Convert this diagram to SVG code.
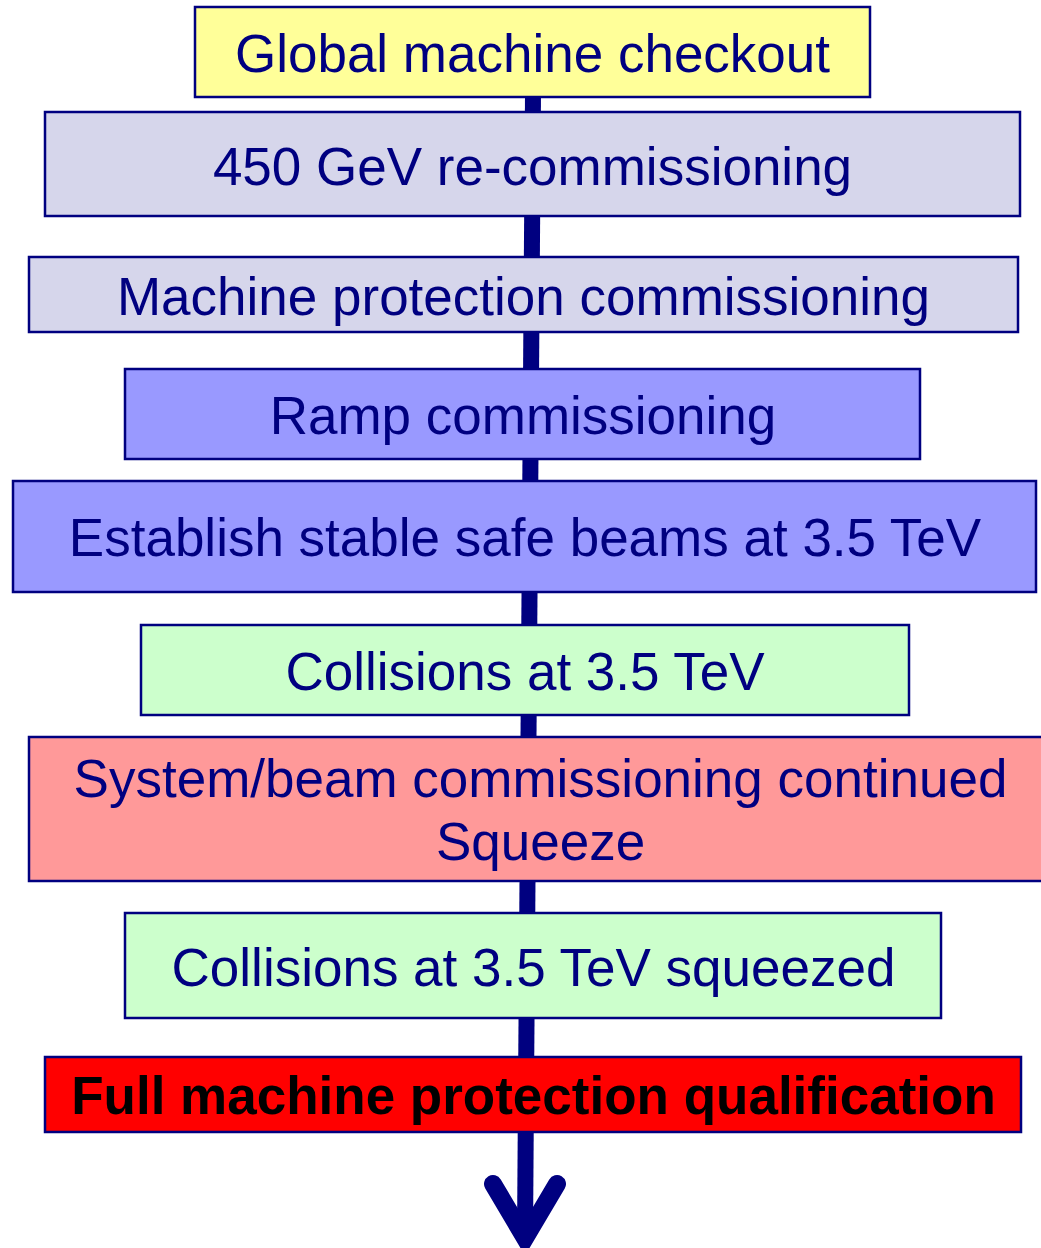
<svg xmlns="http://www.w3.org/2000/svg" width="1041" height="1248" viewBox="0 0 1041 1248">
<style>
.box{stroke:#000080;stroke-width:2.5}
.t{font-family:"Liberation Sans",Arial,Helvetica,sans-serif;font-size:53px;fill:#000080;text-anchor:middle}
.b{font-weight:bold;fill:#000000}
.conn{fill:none;stroke:#000080;stroke-width:16}
.head{fill:none;stroke:#000080;stroke-width:18;stroke-linecap:round;stroke-linejoin:miter}
</style>
<rect width="1041" height="1248" fill="#ffffff"/>
<g id="connectors">
<line class="conn" x1="533" y1="95" x2="525" y2="1236"/>
<polyline class="head" points="493,1184 525,1238 557,1184"/>
</g>
<g id="n1"><rect class="box" x="195" y="7" width="675" height="90" fill="#FFFF99"/><text class="t" x="532.5" y="72">Global machine checkout</text></g>
<g id="n2"><rect class="box" x="45" y="112" width="975" height="104" fill="#D6D6EB"/><text class="t" x="532.5" y="185">450 GeV re-commissioning</text></g>
<g id="n3"><rect class="box" x="29" y="257" width="989" height="75" fill="#D6D6EB"/><text class="t" x="523.5" y="315">Machine protection commissioning</text></g>
<g id="n4"><rect class="box" x="125" y="369" width="795" height="90" fill="#9999FF"/><text class="t" x="523" y="434">Ramp commissioning</text></g>
<g id="n5"><rect class="box" x="13" y="481" width="1023" height="111" fill="#9999FF"/><text class="t" x="525" y="556">Establish stable safe beams at 3.5 TeV</text></g>
<g id="n6"><rect class="box" x="141" y="625" width="768" height="90" fill="#CCFFCC"/><text class="t" x="525" y="690">Collisions at 3.5 TeV</text></g>
<g id="n7"><rect class="box" x="29" y="737" width="1030" height="144" fill="#FF9999"/><text class="t" x="540.5" y="797">System/beam commissioning continued</text><text class="t" x="540.5" y="860">Squeeze</text></g>
<g id="n8"><rect class="box" x="125" y="913" width="816" height="105" fill="#CCFFCC"/><text class="t" x="533.5" y="986">Collisions at 3.5 TeV squeezed</text></g>
<g id="n9"><rect class="box" x="45" y="1057" width="976" height="75" fill="#FF0000"/><text class="t b" x="533.5" y="1114">Full machine protection qualification</text></g>
</svg>
